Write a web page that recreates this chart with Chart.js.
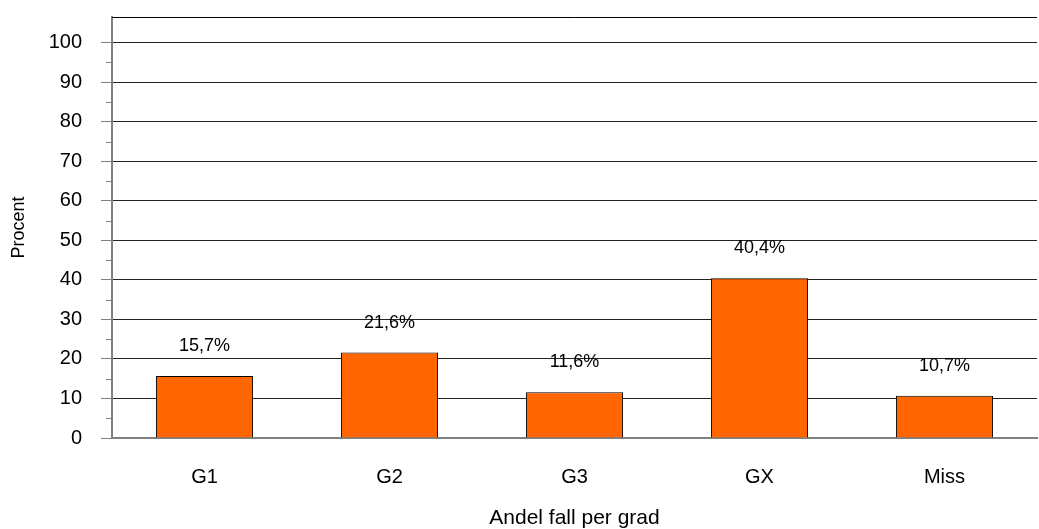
<!DOCTYPE html>
<html>
<head>
<meta charset="utf-8">
<script src="https://cdn.jsdelivr.net/npm/chart.js@4/dist/chart.umd.min.js"></script>
<style>
    html, body { margin: 0; padding: 0; background: #ffffff; }
    #wrap { width: 1039px; height: 529px; }
</style>
</head>
<body>
<div id="wrap"><canvas id="gradChart" width="1039" height="529"></canvas></div>
<script>
// Andel fall per grad (procent)
const CATEGORIES = ['G1', 'G2', 'G3', 'GX', 'Miss'];
const SHARES = [15.7, 21.6, 11.6, 40.4, 10.7];
const Y_TICKS = [0, 10, 20, 30, 40, 50, 60, 70, 80, 90, 100];
const Y_MINOR = [5, 15, 25, 35, 45, 55, 65, 75, 85, 95];

const FONT = "'Liberation Sans', Arial, sans-serif";
const BAR_COLOR = '#FF6600';

const fmtPct = v => v.toFixed(1).replace('.', ',') + '%';

// minor ticks on the y axis, top border, value labels above bars
const extras = {
    id: 'extras',
    afterDraw(chart) {
        const { ctx, chartArea, scales } = chart;
        const y = scales.y;
        ctx.save();
        ctx.strokeStyle = '#808080';
        ctx.lineWidth = 1;
        Y_MINOR.forEach(v => {
            const py = Math.round(y.getPixelForValue(v)) + 0.5;
            ctx.beginPath();
            ctx.moveTo(chartArea.left - 6, py);
            ctx.lineTo(chartArea.left, py);
            ctx.stroke();
        });

        ctx.strokeStyle = '#000000';
        ctx.beginPath();
        ctx.moveTo(chartArea.left, chartArea.top + 0.5);
        ctx.lineTo(chartArea.right, chartArea.top + 0.5);
        ctx.stroke();

        ctx.fillStyle = '#000000';
        ctx.font = `18px ${FONT}`;
        ctx.textAlign = 'center';
        ctx.textBaseline = 'bottom';
        chart.getDatasetMeta(0).data.forEach((bar, i) => {
            ctx.fillText(fmtPct(SHARES[i]), bar.x, bar.y - 21);
        });
        ctx.restore();
    }
};

new Chart(document.getElementById('gradChart'), {
    type: 'bar',
    data: {
        labels: CATEGORIES,
        datasets: [{
            data: SHARES,
            backgroundColor: BAR_COLOR,
            borderColor: '#000000',
            borderWidth: 1,
            borderSkipped: 'bottom',
            categoryPercentage: 1,
            barPercentage: 0.525
        }]
    },
    options: {
        responsive: false,
        animation: false,
        layout: { padding: { top: 17, right: 2, left: 0, bottom: 0 } },
        plugins: {
            legend: { display: false },
            tooltip: { enabled: false }
        },
        scales: {
            x: {
                grid: { display: false, drawTicks: false },
                border: { color: '#808080', width: 2 },
                ticks: {
                    color: '#000000',
                    padding: 27,
                    font: { family: FONT, size: 20 }
                },
                title: {
                    display: true,
                    text: 'Andel fall per grad',
                    color: '#000000',
                    font: { family: FONT, size: 21, lineHeight: 1 },
                    padding: { top: 0, bottom: 0 }
                },
                afterFit(scale) { scale.height = 91; }
            },
            y: {
                min: 0,
                max: 106.5,
                afterBuildTicks(scale) {
                    scale.ticks = Y_TICKS.map(v => ({ value: v }));
                },
                grid: {
                    color: '#222222',
                    lineWidth: 1,
                    tickLength: 11,
                    tickColor: '#808080'
                },
                border: { color: '#808080', width: 2 },
                ticks: {
                    color: '#000000',
                    padding: 19,
                    font: { family: FONT, size: 20 }
                },
                title: {
                    display: true,
                    text: 'Procent',
                    color: '#000000',
                    font: { family: FONT, size: 18, lineHeight: 1.2 },
                    padding: { top: 8, bottom: 0 }
                },
                afterFit(scale) {
                    scale.width = 112;
                    scale.paddingTop = 0;
                    scale.paddingBottom = 0;
                }
            }
        }
    },
    plugins: [extras]
});
</script>
</body>
</html>
